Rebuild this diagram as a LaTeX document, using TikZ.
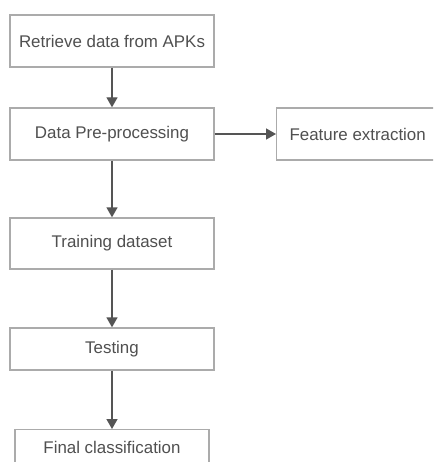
\documentclass[tikz,border=0pt]{standalone}
\usepackage{fontspec}
\setmainfont{Liberation Sans}
\usetikzlibrary{arrows.meta}
\definecolor{boxline}{HTML}{ABABAB}
\definecolor{arrowc}{HTML}{555555}
\definecolor{txt}{HTML}{505050}
\tikzset{
  stepbox/.style={draw=boxline, line width=1.4pt, text=txt, font=\fontsize{16.9}{18}\selectfont, inner sep=0pt},
  flow/.style={draw=arrowc, line width=1.4pt, -{Triangle[length=10pt,width=11pt]}}
}
\begin{document}
\begin{tikzpicture}[x=1pt,y=-1pt]
\useasboundingbox (0,0) rectangle (433,462);
\clip (0,0) rectangle (433,462);
\fill[white] (0,0) rectangle (433,462);
\node[stepbox, minimum width=204pt, minimum height=52pt] (a) at (112,41) {Retrieve data from APKs};
\node[stepbox, minimum width=204pt, minimum height=52pt] (b) at (112,134) {Data Pre-processing};
\node[stepbox, minimum width=162pt, minimum height=52pt, anchor=west] (c) at (276,134) {Feature extraction};
\node[stepbox, minimum width=204pt, minimum height=51pt] (d) at (112,243.5) {Training dataset};
\node[stepbox, minimum width=204pt, minimum height=42pt] (e) at (112,349) {Testing};
\node[stepbox, minimum width=194pt, minimum height=60pt, anchor=north] (f) at (112,429) {};
\node[text=txt, font=\fontsize{16.9}{18}\selectfont] (ft) at (112,447) {Final classification};
\draw[flow] (a) -- (b);
\draw[flow] (b) -- (c);
\draw[flow] (b) -- (d);
\draw[flow] (d) -- (e);
\draw[flow] (e) -- (f);
\end{tikzpicture}
\end{document}
